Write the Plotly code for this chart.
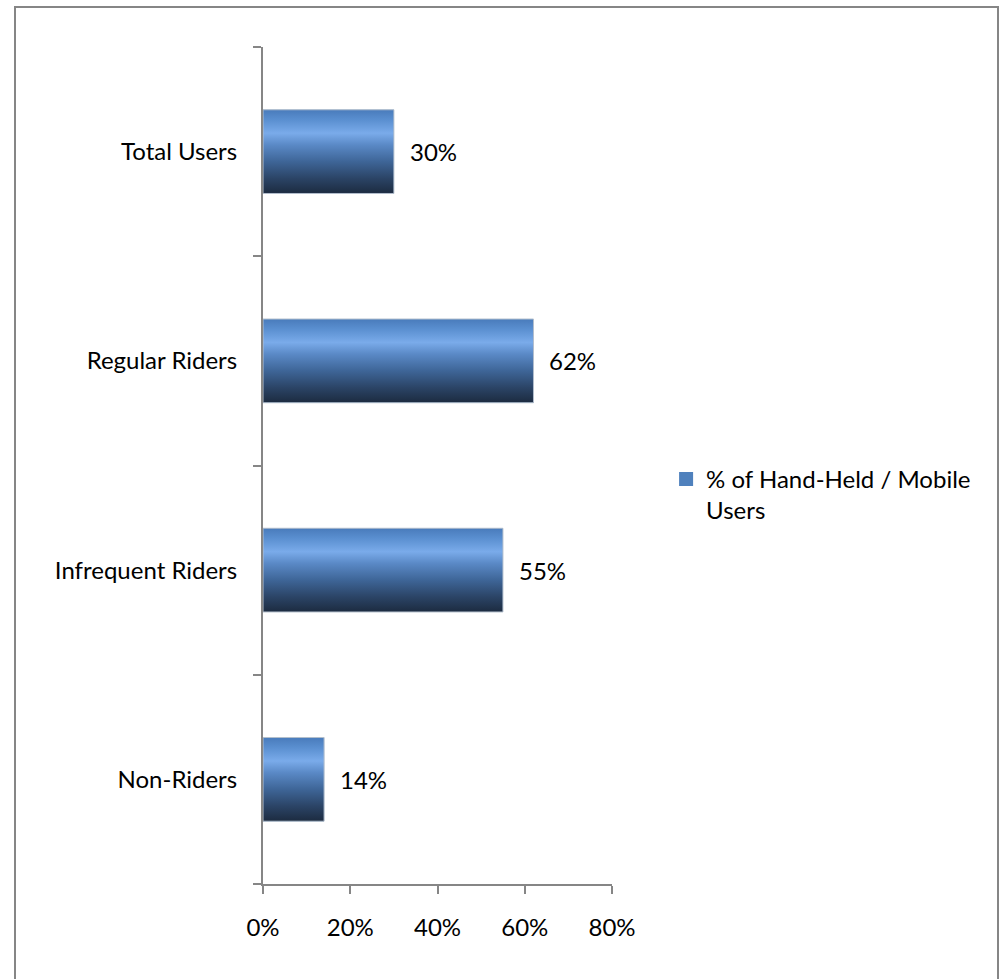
import plotly.graph_objects as go

categories = ["Total Users", "Regular Riders", "Infrequent Riders", "Non-Riders"]
values = [30, 62, 55, 14]
x_ticks = [0, 20, 40, 60, 80]
x_tick_labels = ["0%", "20%", "40%", "60%", "80%"]
series_name = "% of Hand-Held / Mobile<br>Users"

FONT = "Lato"
FS = 24
AXIS_COLOR = "#868686"
BAR_W = 0.4
grad = [[0.0, "#497BBB"], [0.12, "#5A8FD0"], [0.28, "#7AABEA"], [0.42, "#5A89C6"],
        [0.62, "#3E6597"], [0.82, "#2B4466"], [1.0, "#1C2B40"]]

idx = list(range(len(categories)))
fig = go.Figure()

# base bar
fig.add_trace(go.Bar(
    y=idx, x=values, orientation="h", width=BAR_W,
    marker=dict(color="#4F81BD", line=dict(width=0)),
    name=series_name, showlegend=False, hoverinfo="skip",
))

# gradient overlay per bar
for i, v in zip(idx, values):
    y0, y1 = i - BAR_W / 2, i + BAR_W / 2
    fig.add_trace(go.Scatter(
        x=[0, v, v, 0, 0], y=[y0, y0, y1, y1, y0],
        mode="lines", fill="toself",
        line=dict(color="#B3BFCD", width=1),
        fillgradient=dict(type="vertical", colorscale=grad, start=y0, stop=y1),
        showlegend=False, hoverinfo="skip",
    ))

# legend entry (square swatch)
fig.add_trace(go.Scatter(
    x=[None], y=[None], mode="markers", name=series_name,
    marker=dict(symbol="square", size=14, color="#4F81BD", line=dict(width=0)),
    showlegend=True, hoverinfo="skip",
))

# value labels
for i, v in zip(idx, values):
    fig.add_annotation(x=v, y=i, text=f"{v}%", showarrow=False,
                       xanchor="left", xshift=14,
                       font=dict(family=FONT, size=FS, color="#000000"))

fig.update_layout(
    width=1000, height=979,
    margin=dict(l=263, r=388, t=47, b=95),
    paper_bgcolor="white", plot_bgcolor="white",
    font=dict(family=FONT, size=FS, color="#000000"),
    showlegend=True,
    legend=dict(x=1.155, y=0.465, xanchor="left", yanchor="middle", valign="top",
                font=dict(family=FONT, size=FS, color="#000000"),
                itemwidth=30, tracegroupgap=0, bgcolor="rgba(0,0,0,0)"),
    xaxis=dict(range=[0, 80], tickmode="array", tickvals=x_ticks, ticktext=x_tick_labels,
               showgrid=False, zeroline=False, showline=True, linecolor=AXIS_COLOR, linewidth=2,
               ticks="outside", ticklen=8, tickcolor=AXIS_COLOR, tickwidth=2,
               ticklabelstandoff=13, fixedrange=True),
    yaxis=dict(range=[3.5, -0.5], tickmode="array", tickvals=idx, ticktext=categories,
               showgrid=False, zeroline=False, showline=True, linecolor=AXIS_COLOR, linewidth=2,
               ticks="", ticklabelstandoff=19,
               minor=dict(tickvals=[-0.5, 0.5, 1.5, 2.5, 3.5], ticks="outside", ticklen=8,
                          tickcolor=AXIS_COLOR, tickwidth=2, showgrid=False),
               fixedrange=True),
    shapes=[dict(type="rect", xref="paper", yref="paper",
                 x0=-248 / 349, x1=(998 - 263) / 349,
                 y0=(884 - 990) / 837, y1=(884 - 7) / 837,
                 line=dict(color="#868686", width=2), fillcolor="rgba(0,0,0,0)", layer="below")],
)

fig.write_html("out.html", config={"displayModeBar": False},
               post_script="document.body.style.margin='0';")
